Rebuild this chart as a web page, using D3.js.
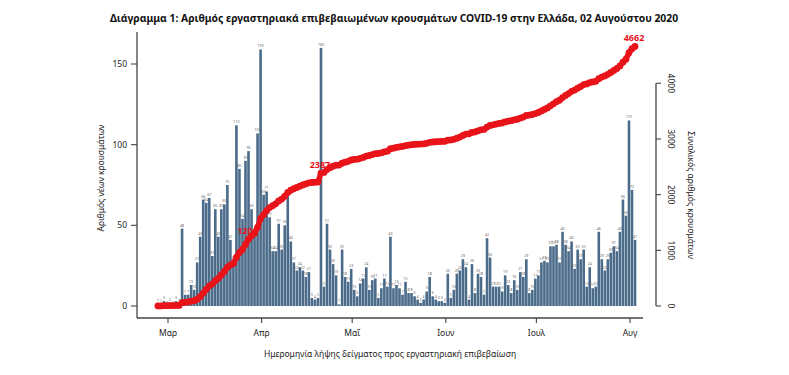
<!DOCTYPE html>
<html>
<head>
<meta charset="utf-8">
<script src="https://cdn.jsdelivr.net/npm/d3@7"></script>
<style>
body { margin: 0; background: #fff; }
text { font-family: "Noto Sans", sans-serif; }
</style>
</head>
<body>
<script>
const width = 789, height = 375;

// first day with a sample, then one value per day up to 02 Aug 2020
const startDate = new Date(2020, 1, 26);
const dailyCases = [
    1, 1, 3, 0, 2, 0, 3, 1, 48, 7, 7, 13, 10,
    27, 43, 66, 64, 67, 31, 60, 43, 60, 63, 75, 41,
    28, 112, 85, 54, 90, 96, 60, 45, 107, 159,
    69, 71, 55, 34, 34, 51, 35, 50,
    68, 40, 27, 22, 24, 22, 18, 21, 5, 4, 5,
    160,
    12, 51, 35, 26, 19, 1, 35, 18, 15, 23, 10, 6, 14, 17, 24, 10, 16, 17, 5, 11, 17, 12,
    43, 11, 13, 11, 7, 15, 8, 8, 6, 4, 2, 4, 9, 18, 6, 4, 3, 3, 2,
    20, 5, 10, 20, 22, 29, 24, 4, 26, 8, 20, 18, 7, 42, 30, 12, 12, 12, 9, 19, 13, 8, 16, 10,
    21, 18, 29, 8, 10, 17, 19, 27, 28, 27,
    37, 37, 38, 27, 46, 38, 34, 40, 23, 35,
    29, 35, 12, 24, 11, 12, 46, 29, 22, 29,
    33, 37, 34, 46, 66, 56, 115, 72, 41
];

const monthTicks = [new Date(2020, 2, 1), new Date(2020, 3, 1), new Date(2020, 4, 1),
                    new Date(2020, 5, 1), new Date(2020, 6, 1), new Date(2020, 7, 1)];
const monthLabels = ["Μαρ", "Απρ", "Μαΐ", "Ιουν", "Ιουλ", "Αυγ"];
const newTicks = [0, 50, 100, 150];
const totalTicks = [0, 1000, 2000, 3000, 4000];
// days whose running total is written in red
const labelledDays = [new Date(2020, 2, 27), new Date(2020, 3, 20), new Date(2020, 7, 2)];

const days = dailyCases.map((v, i) => d3.timeDay.offset(startDate, i));
const totals = Array.from(d3.cumsum(dailyCases));

const svg = d3.select("body")
    .append("svg")
    .attr("width", width)
    .attr("height", height);

const x = d3.scaleTime()
    .domain([monthTicks[0], monthTicks[5]])
    .range([168, 630]);
const yNew = d3.scaleLinear().domain([0, 150]).range([306, 64]);
const yTotal = d3.scaleLinear().domain([0, 4000]).range([306, 83.3]);

const dayW = x(d3.timeDay.offset(monthTicks[0], 1)) - x(monthTicks[0]);
const barW = dayW * 0.86;
const cx = d => x(d) + 2;

// title
svg.append("text")
    .attr("x", 394).attr("y", 22)
    .attr("text-anchor", "middle")
    .attr("font-size", "10.3px")
    .attr("font-weight", "bold")
    .attr("fill", "#111")
    .text("Διάγραμμα 1: Αριθμός εργαστηριακά επιβεβαιωμένων κρουσμάτων COVID-19 στην Ελλάδα, 02 Αυγούστου 2020");

// bars
svg.selectAll(".bar")
    .data(dailyCases)
    .enter()
    .append("rect")
    .attr("class", "bar")
    .attr("x", (d, i) => cx(days[i]) - barW / 2)
    .attr("y", d => yNew(d))
    .attr("width", barW)
    .attr("height", d => yNew(0) - yNew(d))
    .attr("fill", "#4a6b8a");

// tiny value labels above bars
svg.selectAll(".barlab")
    .data(dailyCases)
    .enter()
    .append("text")
    .attr("class", "barlab")
    .attr("x", (d, i) => cx(days[i]))
    .attr("y", d => yNew(d) - 2)
    .attr("text-anchor", "middle")
    .attr("font-size", "3.6px")
    .attr("fill", "#666")
    .text(d => d);

// cumulative line with dots
const line = d3.line()
    .x((d, i) => cx(days[i]))
    .y(d => yTotal(d));

svg.append("path")
    .datum(totals)
    .attr("d", line)
    .attr("fill", "none")
    .attr("stroke", "#e8141a")
    .attr("stroke-width", 5.5);

svg.selectAll(".dot")
    .data(totals)
    .enter()
    .append("circle")
    .attr("class", "dot")
    .attr("cx", (d, i) => cx(days[i]))
    .attr("cy", d => yTotal(d))
    .attr("r", 3.4)
    .attr("fill", "#e8141a");

labelledDays.forEach(day => {
    const i = d3.timeDay.count(startDate, day);
    svg.append("text")
        .attr("x", cx(days[i]) - 1)
        .attr("y", yTotal(totals[i]) - 5)
        .attr("text-anchor", "middle")
        .attr("font-size", "9px")
        .attr("font-weight", "bold")
        .attr("fill", "#e8141a")
        .text(totals[i]);
});

// left axis
const axisCol = "#444";
svg.append("line")
    .attr("x1", 137).attr("x2", 137)
    .attr("y1", 32).attr("y2", 318)
    .attr("stroke", axisCol).attr("stroke-width", 1.3);

const leftAxis = svg.append("g");
leftAxis.selectAll("line")
    .data(newTicks)
    .enter()
    .append("line")
    .attr("x1", 131).attr("x2", 137)
    .attr("y1", d => yNew(d)).attr("y2", d => yNew(d))
    .attr("stroke", axisCol).attr("stroke-width", 1.1);
leftAxis.selectAll("text")
    .data(newTicks)
    .enter()
    .append("text")
    .attr("x", 127)
    .attr("y", d => yNew(d) + 3)
    .attr("text-anchor", "end")
    .attr("font-size", "8.5px")
    .attr("fill", "#222")
    .text(d => d);

svg.append("text")
    .attr("transform", "translate(104,178) rotate(-90)")
    .attr("text-anchor", "middle")
    .attr("font-size", "8.5px")
    .attr("fill", "#222")
    .text("Αριθμός νέων κρουσμάτων");

// bottom axis
svg.append("line")
    .attr("x1", 137).attr("x2", 643)
    .attr("y1", 318).attr("y2", 318)
    .attr("stroke", axisCol).attr("stroke-width", 1.3);

const bottomAxis = svg.append("g");
bottomAxis.selectAll("line")
    .data(monthTicks)
    .enter()
    .append("line")
    .attr("x1", d => x(d)).attr("x2", d => x(d))
    .attr("y1", 318).attr("y2", 323)
    .attr("stroke", axisCol).attr("stroke-width", 1.1);
bottomAxis.selectAll("text")
    .data(monthTicks)
    .enter()
    .append("text")
    .attr("x", d => x(d))
    .attr("y", 336)
    .attr("text-anchor", "middle")
    .attr("font-size", "8.5px")
    .attr("fill", "#222")
    .text((d, i) => monthLabels[i]);

svg.append("text")
    .attr("x", 390).attr("y", 357)
    .attr("text-anchor", "middle")
    .attr("font-size", "8.5px")
    .attr("fill", "#222")
    .text("Ημερομηνία λήψης δείγματος προς εργαστηριακή επιβεβαίωση");

// right axis
svg.append("line")
    .attr("x1", 656).attr("x2", 656)
    .attr("y1", yTotal(4000)).attr("y2", yTotal(0))
    .attr("stroke", axisCol).attr("stroke-width", 1.3);

const rightAxis = svg.append("g");
rightAxis.selectAll("line")
    .data(totalTicks)
    .enter()
    .append("line")
    .attr("x1", 656).attr("x2", 661)
    .attr("y1", d => yTotal(d)).attr("y2", d => yTotal(d))
    .attr("stroke", axisCol).attr("stroke-width", 1.1);
rightAxis.selectAll("text")
    .data(totalTicks)
    .enter()
    .append("text")
    .attr("transform", d => `translate(668,${yTotal(d)}) rotate(90)`)
    .attr("text-anchor", "middle")
    .attr("font-size", "8.5px")
    .attr("fill", "#222")
    .text(d => d);

svg.append("text")
    .attr("transform", "translate(688,195) rotate(90)")
    .attr("text-anchor", "middle")
    .attr("font-size", "8.5px")
    .attr("fill", "#222")
    .text("Συνολικός αριθμός κρουσμάτων");
</script>
</body>
</html>
